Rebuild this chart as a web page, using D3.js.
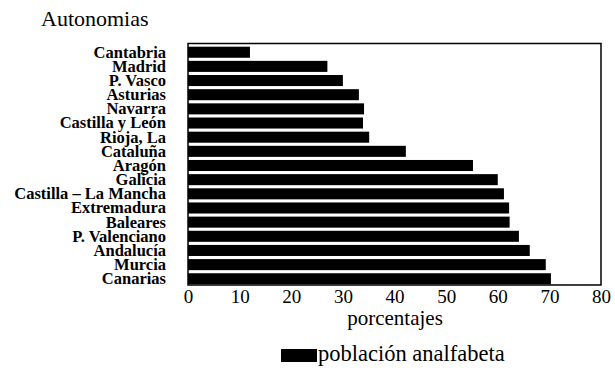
<!DOCTYPE html>
<html><head><meta charset="utf-8">
<script src="https://cdn.jsdelivr.net/npm/d3@7"></script>
<style>body{margin:0;background:#fff}svg{display:block}
svg text{font-family:"Liberation Serif","DejaVu Serif","Times New Roman",serif;}</style>
</head><body>
<script>
const categories = ["Cantabria","Madrid","P. Vasco","Asturias","Navarra","Castilla y León","Rioja, La","Cataluña","Aragón","Galicia","Castilla – La Mancha","Extremadura","Baleares","P. Valenciano","Andalucía","Murcia","Canarias"];
const values = [12.0,27.0,30.0,33.1,34.1,33.9,35.1,42.2,55.2,60.0,61.2,62.2,62.3,64.1,66.2,69.3,70.3];
const xTicks = [0,10,20,30,40,50,60,70,80];
const seriesName = "población analfabeta";

const W = 615, H = 368;
const svg = d3.select("body").append("svg").attr("width", W).attr("height", H);

const x = d3.scaleLinear().domain([0, 80]).range([188, 601]);
const y = d3.scaleBand().domain(categories).range([46.7, 284.3]).paddingInner(0.22).paddingOuter(0);

// title
svg.append("text").attr("x", 41).attr("y", 26).style("font-size", "22px").text("Autonomias");

// bars
svg.append("g").selectAll("rect").data(categories).join("rect")
  .attr("x", x(0)).attr("y", d => y(d))
  .attr("width", (d, i) => x(values[i]) - x(0))
  .attr("height", y.bandwidth()).attr("fill", "#000");

// frame
svg.append("rect").attr("x", x(0)).attr("y", 43.5).attr("width", x(80) - x(0)).attr("height", 285 - 43.5)
  .attr("fill", "none").attr("stroke", "#000").attr("stroke-width", 1.5);

// category labels
const yAxis = d3.axisLeft(y).tickSize(0).tickPadding(0);
const gy = svg.append("g").attr("transform", "translate(166,0)").call(yAxis);
gy.attr("font-family", null);
gy.select(".domain").remove();
gy.selectAll("text").style("font-size", "16.5px").style("font-weight", "bold")
  .attr("fill", "#000").attr("dy", "0.33em");

// x axis labels
const xAxis = d3.axisBottom(x).tickValues(xTicks).tickSize(0).tickPadding(0).tickFormat(d3.format("d"));
const gx = svg.append("g").attr("transform", "translate(0,289)").call(xAxis);
gx.attr("font-family", null);
gx.select(".domain").remove();
gx.selectAll("text").style("font-size", "19px").attr("fill", "#000").attr("dy", "0.71em");

// axis title
svg.append("text").attr("x", 395).attr("y", 325).attr("text-anchor", "middle")
  .style("font-size", "21px").text("porcentajes");

// legend
svg.append("rect").attr("x", 281).attr("y", 349).attr("width", 36).attr("height", 13).attr("fill", "#000");
svg.append("text").attr("x", 318).attr("y", 361).style("font-size", "22.5px").text(seriesName);
</script>
</body></html>
